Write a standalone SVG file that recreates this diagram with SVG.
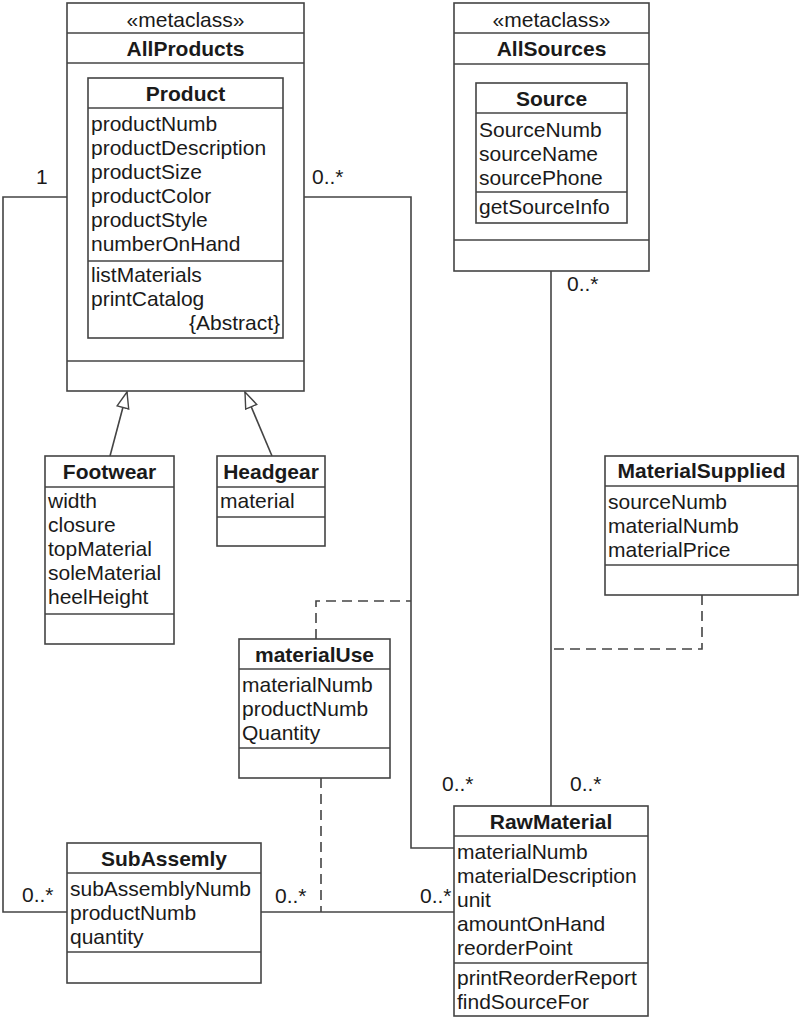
<svg xmlns="http://www.w3.org/2000/svg" width="800" height="1019" viewBox="0 0 800 1019">
<defs>
<style>
.box{fill:#fff;stroke:#444;stroke-width:1.6}
.ln{fill:none;stroke:#444;stroke-width:1.6}
.dash{fill:none;stroke:#444;stroke-width:1.6;stroke-dasharray:10 6}
text{font-family:"Liberation Sans",Arial,sans-serif;font-size:21px;fill:#1a1a1a}
.b{font-weight:bold;text-anchor:middle}
.c{text-anchor:middle}
.r{text-anchor:end}
</style>
<marker id="gen" markerUnits="userSpaceOnUse" markerWidth="20" markerHeight="16" refX="17" refY="7" orient="auto">
<path d="M1,1 L17,7 L1,13 Z" fill="#fff" stroke="#444" stroke-width="1.4"/>
</marker>
</defs>
<rect width="800" height="1019" fill="#fff"/>

<g id="connectors">
<polyline class="ln" points="67,197 3,197 3,912 67,912"/>
<polyline class="ln" points="304,197 411,197 411,848 454,848"/>
<line class="ln" x1="261" y1="912" x2="454" y2="912"/>
<line class="ln" x1="551" y1="271" x2="551" y2="806"/>
<polyline class="dash" points="316,639 316,601 411,601"/>
<line class="dash" x1="321" y1="778" x2="321" y2="912"/>
<polyline class="dash" points="702,595 702,649 551,649"/>
<line class="ln" x1="110" y1="456" x2="127" y2="392" marker-end="url(#gen)"/>
<line class="ln" x1="272" y1="456" x2="245" y2="392" marker-end="url(#gen)"/>
<text x="36" y="184">1</text>
<text x="312" y="184">0..*</text>
<text x="567" y="291">0..*</text>
<text x="22" y="902">0..*</text>
<text x="275" y="903">0..*</text>
<text x="420" y="903">0..*</text>
<text x="442" y="791">0..*</text>
<text x="570" y="791">0..*</text>
</g>

<g id="AllProducts">
<rect class="box" x="67" y="3" width="237" height="388"/>
<line class="ln" x1="67" y1="33" x2="304" y2="33"/>
<line class="ln" x1="67" y1="63" x2="304" y2="63"/>
<line class="ln" x1="67" y1="361" x2="304" y2="361"/>
<text class="c" x="185.5" y="27">«metaclass»</text>
<text class="b" x="185.5" y="56">AllProducts</text>
</g>

<g id="Product">
<rect class="box" x="88" y="78" width="195" height="260"/>
<line class="ln" x1="88" y1="108" x2="283" y2="108"/>
<line class="ln" x1="88" y1="261" x2="283" y2="261"/>
<text class="b" x="185.5" y="101">Product</text>
<text x="91" y="131">productNumb</text>
<text x="91" y="155">productDescription</text>
<text x="91" y="179">productSize</text>
<text x="91" y="203">productColor</text>
<text x="91" y="227">productStyle</text>
<text x="91" y="251">numberOnHand</text>
<text x="91" y="282">listMaterials</text>
<text x="91" y="306">printCatalog</text>
<text class="r" x="280" y="330">{Abstract}</text>
</g>

<g id="AllSources">
<rect class="box" x="454" y="3" width="195" height="268"/>
<line class="ln" x1="454" y1="33" x2="649" y2="33"/>
<line class="ln" x1="454" y1="64" x2="649" y2="64"/>
<line class="ln" x1="454" y1="240" x2="649" y2="240"/>
<text class="c" x="551.5" y="27">«metaclass»</text>
<text class="b" x="551.5" y="56">AllSources</text>
</g>

<g id="Source">
<rect class="box" x="476" y="83" width="151" height="140"/>
<line class="ln" x1="476" y1="113" x2="627" y2="113"/>
<line class="ln" x1="476" y1="192" x2="627" y2="192"/>
<text class="b" x="551.5" y="106">Source</text>
<text x="479" y="137">SourceNumb</text>
<text x="479" y="161">sourceName</text>
<text x="479" y="185">sourcePhone</text>
<text x="479" y="214">getSourceInfo</text>
</g>

<g id="Footwear">
<rect class="box" x="45" y="456" width="129" height="188"/>
<line class="ln" x1="45" y1="487" x2="174" y2="487"/>
<line class="ln" x1="45" y1="614" x2="174" y2="614"/>
<text class="b" x="109.5" y="479">Footwear</text>
<text x="48" y="508">width</text>
<text x="48" y="532">closure</text>
<text x="48" y="556">topMaterial</text>
<text x="48" y="580">soleMaterial</text>
<text x="48" y="604">heelHeight</text>
</g>

<g id="Headgear">
<rect class="box" x="217" y="456" width="108" height="90"/>
<line class="ln" x1="217" y1="487" x2="325" y2="487"/>
<line class="ln" x1="217" y1="517" x2="325" y2="517"/>
<text class="b" x="271" y="479">Headgear</text>
<text x="220" y="508">material</text>
</g>

<g id="MaterialSupplied">
<rect class="box" x="605" y="456" width="193" height="139"/>
<line class="ln" x1="605" y1="486" x2="798" y2="486"/>
<line class="ln" x1="605" y1="565" x2="798" y2="565"/>
<text class="b" x="701.5" y="478">MaterialSupplied</text>
<text x="608" y="509">sourceNumb</text>
<text x="608" y="533">materialNumb</text>
<text x="608" y="557">materialPrice</text>
</g>

<g id="materialUse">
<rect class="box" x="239" y="639" width="151" height="139"/>
<line class="ln" x1="239" y1="669" x2="390" y2="669"/>
<line class="ln" x1="239" y1="748" x2="390" y2="748"/>
<text class="b" x="314.5" y="662">materialUse</text>
<text x="242" y="692">materialNumb</text>
<text x="242" y="716">productNumb</text>
<text x="242" y="740">Quantity</text>
</g>

<g id="SubAssemly">
<rect class="box" x="67" y="843" width="194" height="140"/>
<line class="ln" x1="67" y1="873" x2="261" y2="873"/>
<line class="ln" x1="67" y1="952" x2="261" y2="952"/>
<text class="b" x="164" y="866">SubAssemly</text>
<text x="70" y="896">subAssemblyNumb</text>
<text x="70" y="920">productNumb</text>
<text x="70" y="944">quantity</text>
</g>

<g id="RawMaterial">
<rect class="box" x="454" y="806" width="194" height="210"/>
<line class="ln" x1="454" y1="836" x2="648" y2="836"/>
<line class="ln" x1="454" y1="963" x2="648" y2="963"/>
<text class="b" x="551" y="829">RawMaterial</text>
<text x="457" y="859">materialNumb</text>
<text x="457" y="883">materialDescription</text>
<text x="457" y="907">unit</text>
<text x="457" y="931">amountOnHand</text>
<text x="457" y="955">reorderPoint</text>
<text x="457" y="985">printReorderReport</text>
<text x="457" y="1009">findSourceFor</text>
</g>
</svg>
